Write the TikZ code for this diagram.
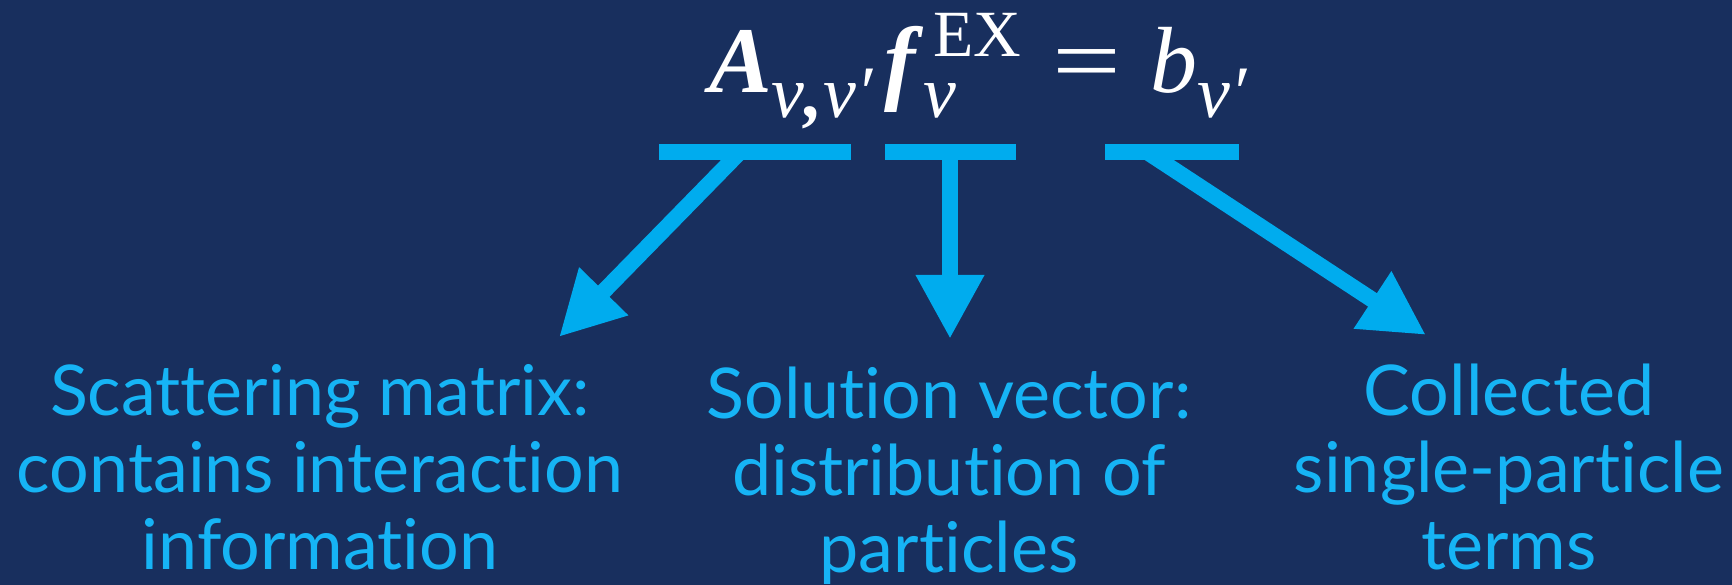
\documentclass[tikz,border=0pt]{standalone}
\usepackage{graphicx}
\usepackage{fontspec}
\setmainfont{Liberation Serif}
\newfontfamily\lato[Ligatures=NoCommon]{Lato}
\usetikzlibrary{arrows.meta}
\definecolor{navy}{RGB}{24,47,94}
\definecolor{sky}{RGB}{0,172,238}
\definecolor{skytext}{RGB}{22,180,245}
\newcommand{\eqsub}[1]{\raisebox{-25pt}{\fontsize{74}{74}\selectfont\itshape #1}}
\newcommand{\eqsup}[1]{\raisebox{36pt}{\fontsize{66}{66}\selectfont #1}}

\begin{document}
\begin{tikzpicture}[x=1pt,y=1pt]
\tikzset{bar/.style={fill=sky,inner sep=0pt,minimum height=16pt}}
\tikzset{lbl/.style={text=skytext,align=center,anchor=base,inner sep=0pt,font=\lato\fontsize{70}{77}\selectfont}}
\tikzset{arr/.style={draw=sky,line width=16pt,-{Triangle[length=64pt,width=64pt]}}}
\fill[navy] (0,0) rectangle (1732,585);
\useasboundingbox (0,0) rectangle (1732,585);

\node (eq) at (709,492) [anchor=base west,text=white,inner sep=0pt,font=\fontsize{94}{100}\selectfont] {{\bfseries\itshape A}\eqsub{ν{\bfseries,}ν′}\hspace{12pt}{\bfseries\itshape f}\hspace{18pt}\rlap{\hspace{-10pt}\eqsub{ν}}\eqsup{EX}\hspace{31pt}\scalebox{1.3}[1]{=}\hspace{29pt}{\itshape b}\eqsub{ν′}};

\node (b1) at (755,433) [bar,minimum width=192pt] {};
\node (b2) at (950,433) [bar,minimum width=131pt] {};
\node (b3) at (1172,433) [bar,minimum width=134pt] {};

\coordinate (s1) at (740,433);
\coordinate (s3) at (1147,433);
\coordinate (t1) at (559,248);
\coordinate (t2) at (950,246);
\coordinate (t3) at (1426,250);

\node (l1) at (320,15) [lbl] {Scattering matrix:\\contains interaction\\information};
\node (l2) at (949,12) [lbl] {Solution vector:\\distribution of\\particles};
\node (l3) at (1509,15) [lbl] {Collected\\single-particle\\terms};

\draw[arr] (s1) -- (t1);
\draw[arr] (b2.center) -- (t2);
\draw[arr] (s3) -- (t3);
\end{tikzpicture}
\end{document}
